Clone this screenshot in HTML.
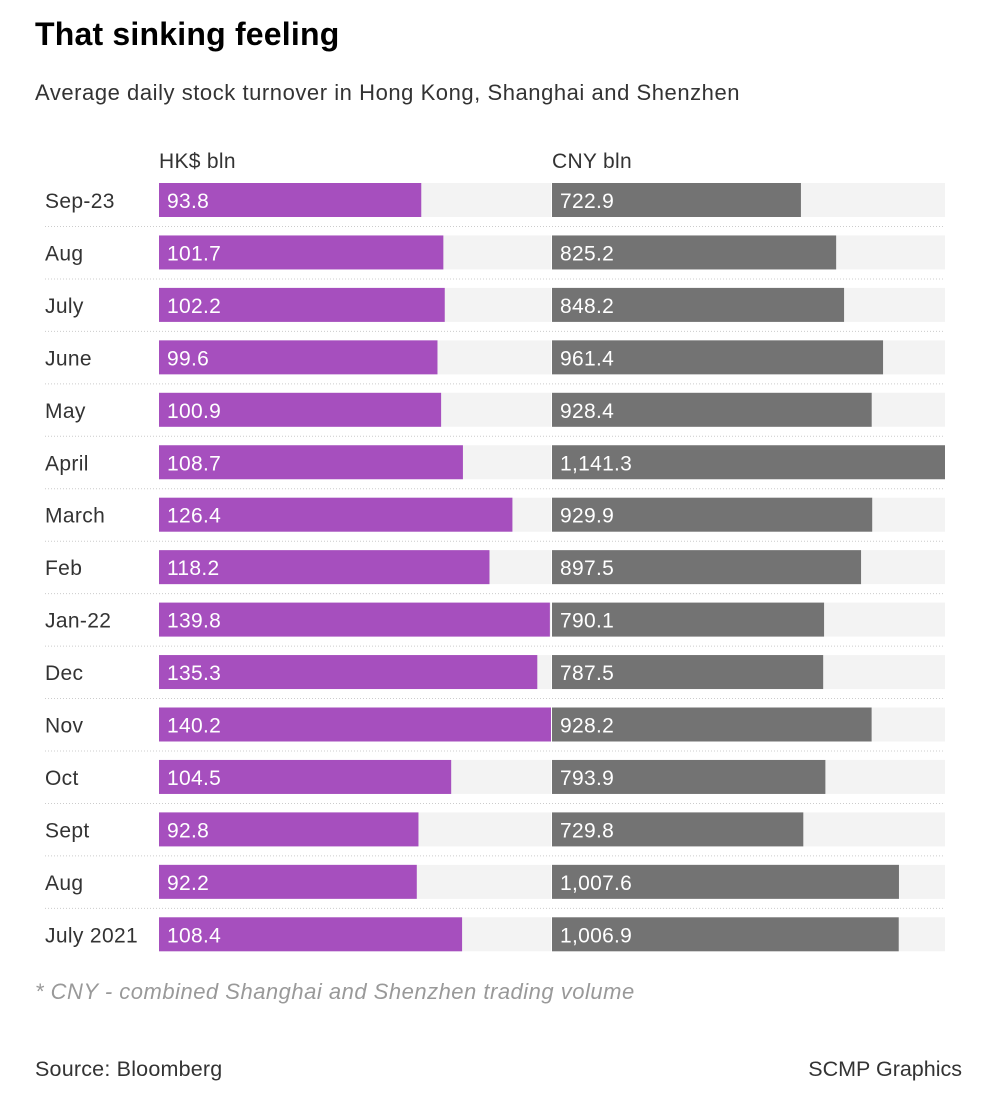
<!DOCTYPE html>
<html><head><meta charset="utf-8">
<style>
body{margin:0;background:#fff;width:988px;height:1103px;overflow:hidden;font-family:"Liberation Sans",sans-serif;}
#title{position:absolute;left:35px;top:16px;font-size:32px;letter-spacing:0.2px;font-weight:bold;color:#000;}
#sub{position:absolute;left:35px;top:80px;font-size:22px;letter-spacing:0.55px;color:#333;}
#note{position:absolute;left:35px;top:979px;font-size:22px;letter-spacing:0.5px;font-style:italic;color:#999;}
#src{position:absolute;left:35px;top:1057px;font-size:21.5px;letter-spacing:0.2px;color:#333;}
#cred{position:absolute;right:26px;top:1057px;font-size:21.5px;color:#333;}
svg{position:absolute;left:0;top:0;}
</style></head><body>
<div id="title">That sinking feeling</div>
<div id="sub">Average daily stock turnover in Hong Kong, Shanghai and Shenzhen</div>
<svg id="chart" width="988" height="1103"></svg>
<div id="note">* CNY - combined Shanghai and Shenzhen trading volume</div>
<div id="src">Source: Bloomberg</div>
<div id="cred">SCMP Graphics</div>
<script>
const categories=["Sep-23","Aug","July","June","May","April","March","Feb","Jan-22","Dec","Nov","Oct","Sept","Aug","July 2021"];
const hkValues=[93.8,101.7,102.2,99.6,100.9,108.7,126.4,118.2,139.8,135.3,140.2,104.5,92.8,92.2,108.4];
const cnyValues=[722.9,825.2,848.2,961.4,928.4,1141.3,929.9,897.5,790.1,787.5,928.2,793.9,729.8,1007.6,1006.9];
const hkLabels=["93.8","101.7","102.2","99.6","100.9","108.7","126.4","118.2","139.8","135.3","140.2","104.5","92.8","92.2","108.4"];
const cnyLabels=["722.9","825.2","848.2","961.4","928.4","1,141.3","929.9","897.5","790.1","787.5","928.2","793.9","729.8","1,007.6","1,006.9"];
const svg=document.getElementById('chart');
const NS='http://www.w3.org/2000/svg';
const hkX0=159,hkW=392,cnX0=552,cnW=393;
const hkMax=Math.max(...hkValues),cnMax=Math.max(...cnyValues);
const xHK=v=>v/hkMax*hkW, xCN=v=>v/cnMax*cnW;
const rowY=i=>183+i*52.45;
function mk(tag,attrs,txt){const e=document.createElementNS(NS,tag);for(const k in attrs)e.setAttribute(k,attrs[k]);if(txt!=null)e.textContent=txt;svg.appendChild(e);return e;}
let h=mk('text',{x:159,y:168,'font-size':21,'letter-spacing':0.3,fill:'#333'},'HK$ bln');


h=mk('text',{x:552,y:168,'font-size':21,'letter-spacing':0.3,fill:'#333'},'CNY bln');


categories.forEach((c,i)=>{
  const y=rowY(i);
  let e=mk('text',{x:45,y:y+25,'font-size':21,'letter-spacing':0.35,fill:'#333'},c);
  
  
  e=mk('rect',{x:hkX0,y:y,width:hkW,height:34,fill:'#f3f3f3'});
  
  
  e=mk('rect',{x:cnX0,y:y,width:cnW,height:34,fill:'#f3f3f3'});
  
  
  e=mk('rect',{x:hkX0,y:y,width:xHK(hkValues[i]),height:34,fill:'#a64fbe'});
  
  
  e=mk('rect',{x:cnX0,y:y,width:xCN(cnyValues[i]),height:34,fill:'#737373'});
  
  
  e=mk('text',{x:hkX0+8,y:y+25,'font-size':21,'letter-spacing':0.3,fill:'#fff'},hkLabels[i]);
  
  
  e=mk('text',{x:cnX0+8,y:y+25,'font-size':21,'letter-spacing':0.3,fill:'#fff'},cnyLabels[i]);
  
  
  if(i<categories.length-1){
    e=mk('line',{x1:45,x2:945,y1:y+43.5,y2:y+43.5,stroke:'#ccc','stroke-width':1,'stroke-dasharray':'1 2'});
    
    
  }
});
</script>
</body></html>
